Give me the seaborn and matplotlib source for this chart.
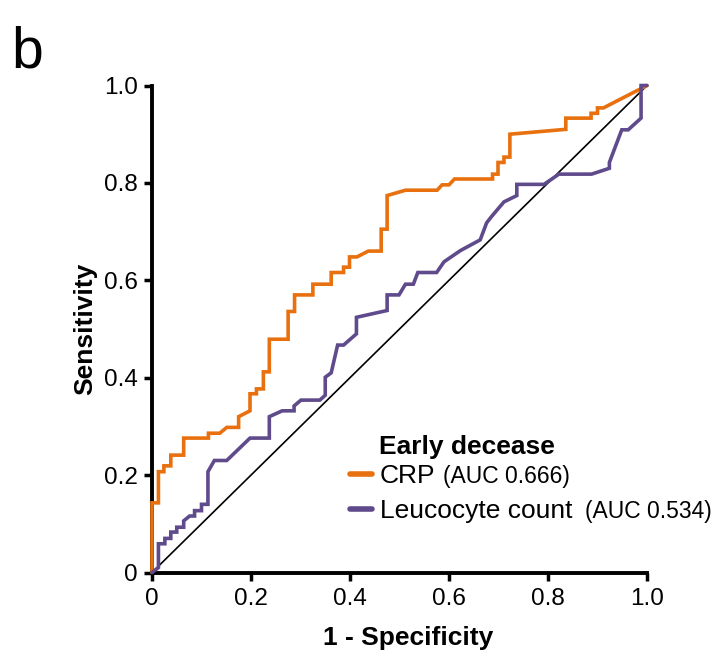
import matplotlib
matplotlib.use("Agg")
import matplotlib.pyplot as plt
import seaborn as sns
import pandas as pd
from matplotlib.lines import Line2D

# ---- data ----
crp_fpr = [0, 0, 0.013, 0.013, 0.024, 0.024, 0.038, 0.038, 0.064, 0.064, 0.114, 0.114,
           0.137, 0.151, 0.175, 0.175, 0.198, 0.198, 0.211, 0.211, 0.225, 0.225, 0.237,
           0.237, 0.275, 0.275, 0.288, 0.288, 0.325, 0.325, 0.362, 0.362, 0.387, 0.387,
           0.399, 0.399, 0.414, 0.437, 0.463, 0.463, 0.475, 0.475, 0.512, 0.576, 0.586,
           0.600, 0.611, 0.688, 0.688, 0.699, 0.699, 0.711, 0.711, 0.723, 0.723, 0.836,
           0.836, 0.887, 0.887, 0.900, 0.900, 0.912, 1.0]
crp_tpr = [0, 0.143, 0.143, 0.207, 0.207, 0.219, 0.219, 0.241, 0.241, 0.276, 0.276, 0.286,
           0.286, 0.298, 0.298, 0.320, 0.332, 0.367, 0.367, 0.377, 0.377, 0.412, 0.412,
           0.479, 0.479, 0.536, 0.536, 0.570, 0.570, 0.592, 0.592, 0.616, 0.616, 0.627,
           0.627, 0.648, 0.648, 0.660, 0.660, 0.705, 0.705, 0.774, 0.785, 0.785, 0.796,
           0.796, 0.808, 0.808, 0.818, 0.818, 0.842, 0.842, 0.853, 0.853, 0.900, 0.910,
           0.933, 0.933, 0.943, 0.943, 0.954, 0.954, 1.0]

leu_fpr = [0, 0.013, 0.013, 0.026, 0.026, 0.038, 0.038, 0.050, 0.050, 0.064, 0.064, 0.076,
           0.086, 0.086, 0.100, 0.100, 0.113, 0.113, 0.126, 0.151, 0.198, 0.237, 0.237,
           0.263, 0.287, 0.287, 0.301, 0.339, 0.350, 0.350, 0.362, 0.375, 0.387, 0.413,
           0.413, 0.475, 0.475, 0.499, 0.512, 0.528, 0.537, 0.575, 0.590, 0.623, 0.663,
           0.676, 0.686, 0.711, 0.737, 0.737, 0.792, 0.822, 0.888, 0.924, 0.924, 0.949,
           0.962, 0.988, 0.988, 1.0]
leu_tpr = [0, 0.010, 0.059, 0.059, 0.070, 0.070, 0.083, 0.083, 0.093, 0.093, 0.106, 0.116,
           0.116, 0.127, 0.127, 0.140, 0.140, 0.207, 0.230, 0.230, 0.276, 0.276, 0.320,
           0.332, 0.332, 0.342, 0.354, 0.354, 0.364, 0.401, 0.410, 0.467, 0.467, 0.490,
           0.524, 0.538, 0.570, 0.570, 0.592, 0.592, 0.616, 0.616, 0.638, 0.661, 0.683,
           0.718, 0.731, 0.761, 0.774, 0.797, 0.797, 0.818, 0.818, 0.830, 0.842, 0.909,
           0.909, 0.933, 1.0, 1.0]

series_names = ["CRP", "Leucocyte count"]
auc_labels = ["(AUC 0.666)", "(AUC 0.534)"]
legend_title = "Early decease"
ticks = [0, 0.2, 0.4, 0.6, 0.8, 1.0]
tick_labels = ["0", "0.2", "0.4", "0.6", "0.8", "1.0"]
colors = ["#E8700E", "#5F4B8B"]

df = pd.concat([
    pd.DataFrame({"fpr": crp_fpr, "tpr": crp_tpr, "marker": series_names[0]}),
    pd.DataFrame({"fpr": leu_fpr, "tpr": leu_tpr, "marker": series_names[1]}),
])

sns.set_style("ticks")
plt.rcParams["font.family"] = ["Liberation Sans", "DejaVu Sans"]
plt.rcParams["text.color"] = "black"
plt.rcParams["axes.labelcolor"] = "black"

fig = plt.figure(figsize=(7.19, 6.61), dpi=100)
ax = fig.add_axes([152 / 719, 1 - 572.5 / 661, 495 / 719, 487 / 661])

# diagonal reference
ax.plot([0, 1], [0, 1], color="black", lw=1.2, zorder=1, clip_on=False)

sns.lineplot(data=df, x="fpr", y="tpr", hue="marker", palette=colors,
             estimator=None, sort=False, lw=2.6, ax=ax, legend=False, zorder=3)
for ln in ax.lines:
    ln.set_clip_on(False)
    ln.set_solid_joinstyle("miter")

ax.set_xlim(0, 1)
ax.set_ylim(0, 1)
ax.set_xticks(ticks)
ax.set_xticklabels(tick_labels)
ax.set_yticks(ticks)
ax.set_yticklabels(tick_labels)
ax.tick_params(axis="both", labelsize=17.5, width=2.5, length=6, direction="out",
               color="black", labelcolor="black")
ax.tick_params(axis="x", pad=5)
ax.tick_params(axis="y", pad=4)
for s in ["left", "bottom"]:
    ax.spines[s].set_linewidth(2.8)
    ax.spines[s].set_color("black")
sns.despine(ax=ax)

ax.set_xlabel("1 - Specificity", fontsize=19, fontweight="bold", va="center")
ax.set_ylabel("Sensitivity", fontsize=19, fontweight="bold", va="center")
ax.xaxis.set_label_coords((408.5 - 152) / 495, (572.5 - 638) / 487)
ax.yaxis.set_label_coords((85 - 152) / 495, 0.5)

# panel letter
fig.text(11 / 719, 1 - 52 / 661, "b", fontsize=41, va="center", ha="left")

# legend (title drawn separately, aligned with the label text)
handles = [Line2D([0], [0], color=c, lw=4) for c in colors]
leg = ax.legend(handles, series_names, frameon=False,
                loc="upper left", bbox_to_anchor=(0.40, 0.222),
                fontsize=19, labelcolor="black",
                handlelength=0.83, handletextpad=0.3, labelspacing=0.42,
                borderpad=0, borderaxespad=0)

fig.canvas.draw()
renderer = fig.canvas.get_renderer()
inv = fig.transFigure.inverted()
texts = leg.get_texts()
bb0 = texts[0].get_window_extent(renderer)
tx, ty = inv.transform((bb0.x0 - 1, 661 - 447))
fig.text(tx, ty, legend_title, fontsize=19, fontweight="bold", va="center", ha="left")

gaps = [8, 13]
for txt, auc, g in zip(texts, auc_labels, gaps):
    bb = txt.get_window_extent(renderer)
    x, y = inv.transform((bb.x1 + g, (bb.y0 + bb.y1) / 2))
    fig.text(x, y, auc, fontsize=16.5, va="center", ha="left")

fig.savefig("out.png", dpi=100)
